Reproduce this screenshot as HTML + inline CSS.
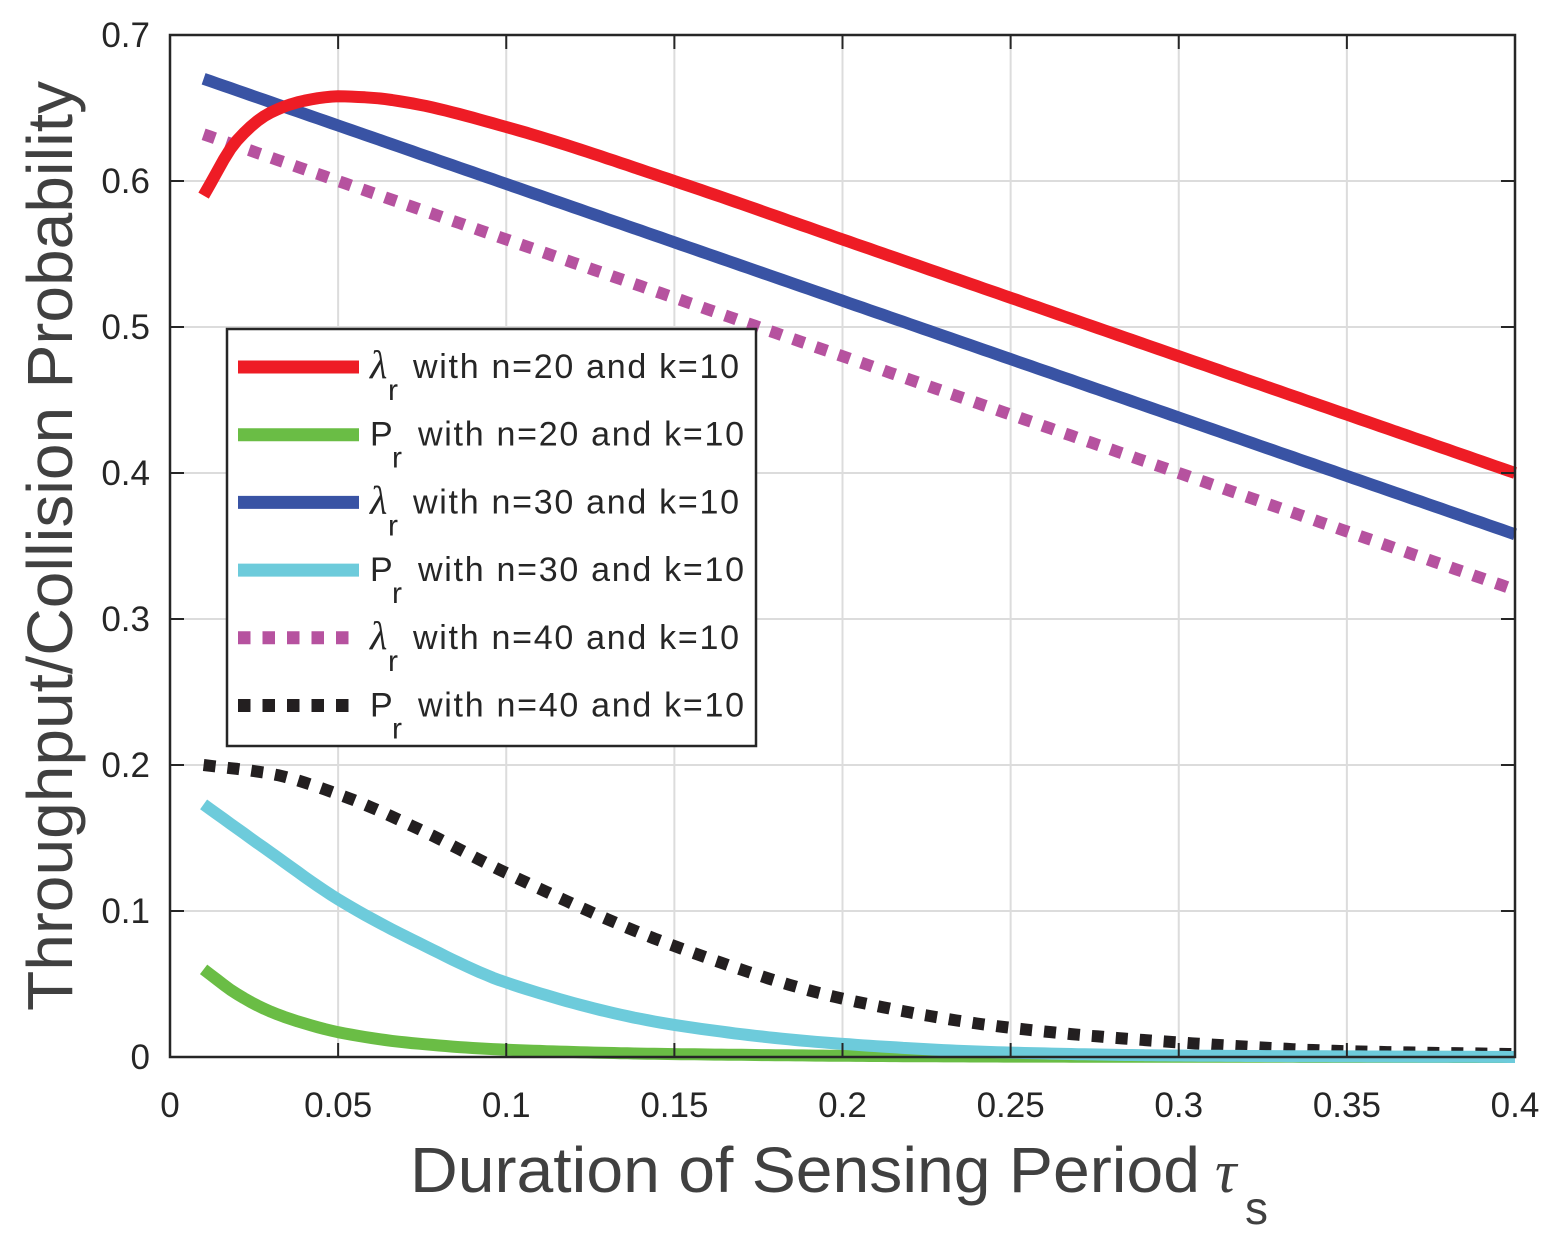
<!DOCTYPE html>
<html><head><meta charset="utf-8"><style>body{margin:0;background:#fff}svg{display:block}</style></head>
<body>
<svg id="s" width="1552" height="1247" viewBox="0 0 1552 1247" xmlns="http://www.w3.org/2000/svg" font-family="Liberation Sans, sans-serif">
<rect width="1552" height="1247" fill="#fff"/>
<g id="grid" stroke="#dcdcdc" stroke-width="2"></g>
<g id="series" fill="none" stroke-linejoin="round"></g>
<rect x="170" y="35" width="1345" height="1022" fill="none" stroke="#262626" stroke-width="2.5"/>
<g id="ticks" stroke="#262626" stroke-width="2"></g>
<g id="labels" font-size="35" fill="#262626"></g>
<text x="410" y="1192" font-size="64" fill="#404040" textLength="790" lengthAdjust="spacingAndGlyphs">Duration of Sensing Period</text>
<text x="1215" y="1192" font-size="60" fill="#404040" font-family="Liberation Serif, serif" font-style="italic">τ</text>
<text x="1245" y="1224" font-size="46" fill="#404040">s</text>
<text transform="translate(72,546) rotate(-90)" font-size="64" fill="#404040" text-anchor="middle" textLength="930" lengthAdjust="spacingAndGlyphs">Throughput/Collision Probability</text>
<g>
<rect x="227" y="329" width="529" height="417" fill="#fff" stroke="#262626" stroke-width="2.5"/>
<g id="leg" font-size="34" fill="#262626"></g>
</g>
</svg>
<script>
const X=x=>170+x*3362.5, Y=y=>1057-y*1460;
const ns="http://www.w3.org/2000/svg";
function el(p,t,a,txt){const e=document.createElementNS(ns,t);for(const k in a)e.setAttribute(k,a[k]);if(txt!==undefined)e.textContent=txt;document.getElementById(p).appendChild(e);return e;}
for(let i=1;i<8;i++){const x=X(i*0.05);el('grid','line',{x1:x,x2:x,y1:35,y2:1057});}
for(let i=1;i<7;i++){const y=Y(i*0.1);el('grid','line',{x1:170,x2:1515,y1:y,y2:y});}
const xl=['0','0.05','0.1','0.15','0.2','0.25','0.3','0.35','0.4'];
for(let i=0;i<=8;i++){const x=X(i*0.05);el('ticks','line',{x1:x,x2:x,y1:1057,y2:1043});el('ticks','line',{x1:x,x2:x,y1:35,y2:49});
 el('labels','text',{x:x,y:1117,'text-anchor':'middle'},xl[i]);}
for(let i=0;i<=7;i++){const y=Y(i*0.1);el('ticks','line',{x1:170,x2:184,y1:y,y2:y});el('ticks','line',{x1:1515,x2:1501,y1:y,y2:y});
 el('labels','text',{x:150,y:y+12,'text-anchor':'end'},i==0?'0':(i*0.1).toFixed(1));}
// monotone cubic (Fritsch-Carlson)
function pchip(pts){const n=pts.length,xs=pts.map(p=>p[0]),ys=pts.map(p=>p[1]);const h=[],d=[];
 for(let i=0;i<n-1;i++){h.push(xs[i+1]-xs[i]);d.push((ys[i+1]-ys[i])/h[i]);}
 const m=new Array(n);m[0]=d[0];m[n-1]=d[n-2];
 for(let i=1;i<n-1;i++){if(d[i-1]*d[i]<=0)m[i]=0;else{const w1=2*h[i]+h[i-1],w2=h[i]+2*h[i-1];m[i]=(w1+w2)/(w1/d[i-1]+w2/d[i]);}}
 return x=>{let i=0;while(i<n-2&&x>xs[i+1])i++;const t=(x-xs[i])/h[i],t2=t*t,t3=t2*t;
  return (2*t3-3*t2+1)*ys[i]+(t3-2*t2+t)*h[i]*m[i]+(-2*t3+3*t2)*ys[i+1]+(t3-t2)*h[i]*m[i+1];};}
function path(pts,col,dash){const f=pchip(pts);let d='';const N=195;for(let k=0;k<=N;k++){const x=0.01+k*0.39/N;d+=(k==0?'M':'L')+X(x).toFixed(1)+','+Y(f(x)).toFixed(1);}
 const a={d:d,stroke:col,'stroke-width':12};if(dash)a['stroke-dasharray']=dash;el('series','path',a);}
path([[0.01,0.06],[0.02,0.043],[0.03,0.031],[0.04,0.023],[0.05,0.017],[0.07,0.01],[0.1,0.005],[0.15,0.002],[0.25,0.0003],[0.4,0]],'#6abd45');
path([[0.01,0.2],[0.03,0.194],[0.05,0.18],[0.075,0.155],[0.1,0.126],[0.15,0.076],[0.2,0.04],[0.25,0.02],[0.3,0.01],[0.35,0.004],[0.4,0.002]],'#231f20','12 12');
path([[0.01,0.173],[0.03,0.14],[0.05,0.108],[0.075,0.077],[0.1,0.051],[0.15,0.022],[0.2,0.009],[0.25,0.003],[0.3,0.001],[0.4,0]],'#6dcbdb');
path([[0.01,0.632],[0.1,0.56],[0.2,0.48],[0.3,0.40],[0.4,0.32]],'#b6529f','12 12');
path([[0.01,0.67],[0.4,0.358]],'#3953a4');
path([[0.01,0.59],[0.02,0.628],[0.03,0.647],[0.04,0.655],[0.05,0.658],[0.06,0.657],[0.07,0.654],[0.1,0.637],[0.15,0.6],[0.2,0.56],[0.25,0.52],[0.3,0.48],[0.35,0.44],[0.4,0.4]],'#ee1c25');
const L=[['#ee1c25','λ','20',0],['#6abd45','P','20',0],['#3953a4','λ','30',0],['#6dcbdb','P','30',0],['#b6529f','λ','40',1],['#231f20','P','40',1]];
L.forEach((l,i)=>{const y=367+i*67.7;const a={x1:238,x2:359,y1:y,y2:y,stroke:l[0],'stroke-width':13};if(l[3]){a['stroke-dasharray']='12.5 12';}
 el('leg','line',a);
 const t=el('leg','text',{x:370,y:y+11});
 const s1=document.createElementNS(ns,'tspan');s1.textContent=l[1];if(l[1]=='λ'){s1.setAttribute('font-family','Liberation Serif, serif');s1.setAttribute('font-style','italic');s1.setAttribute('font-size','40');}t.appendChild(s1);
 const s2=document.createElementNS(ns,'tspan');s2.setAttribute('dy','22');s2.setAttribute('font-size','30');s2.setAttribute('x',l[1]=='λ'?388:392);s2.textContent='r';t.appendChild(s2);
 const s3=document.createElementNS(ns,'tspan');s3.setAttribute('dy','-22');s3.setAttribute('x',l[1]=='λ'?413:418);s3.setAttribute('textLength','326');s3.textContent='with n='+l[2]+' and k=10';t.appendChild(s3);
});
</script>
</body></html>
